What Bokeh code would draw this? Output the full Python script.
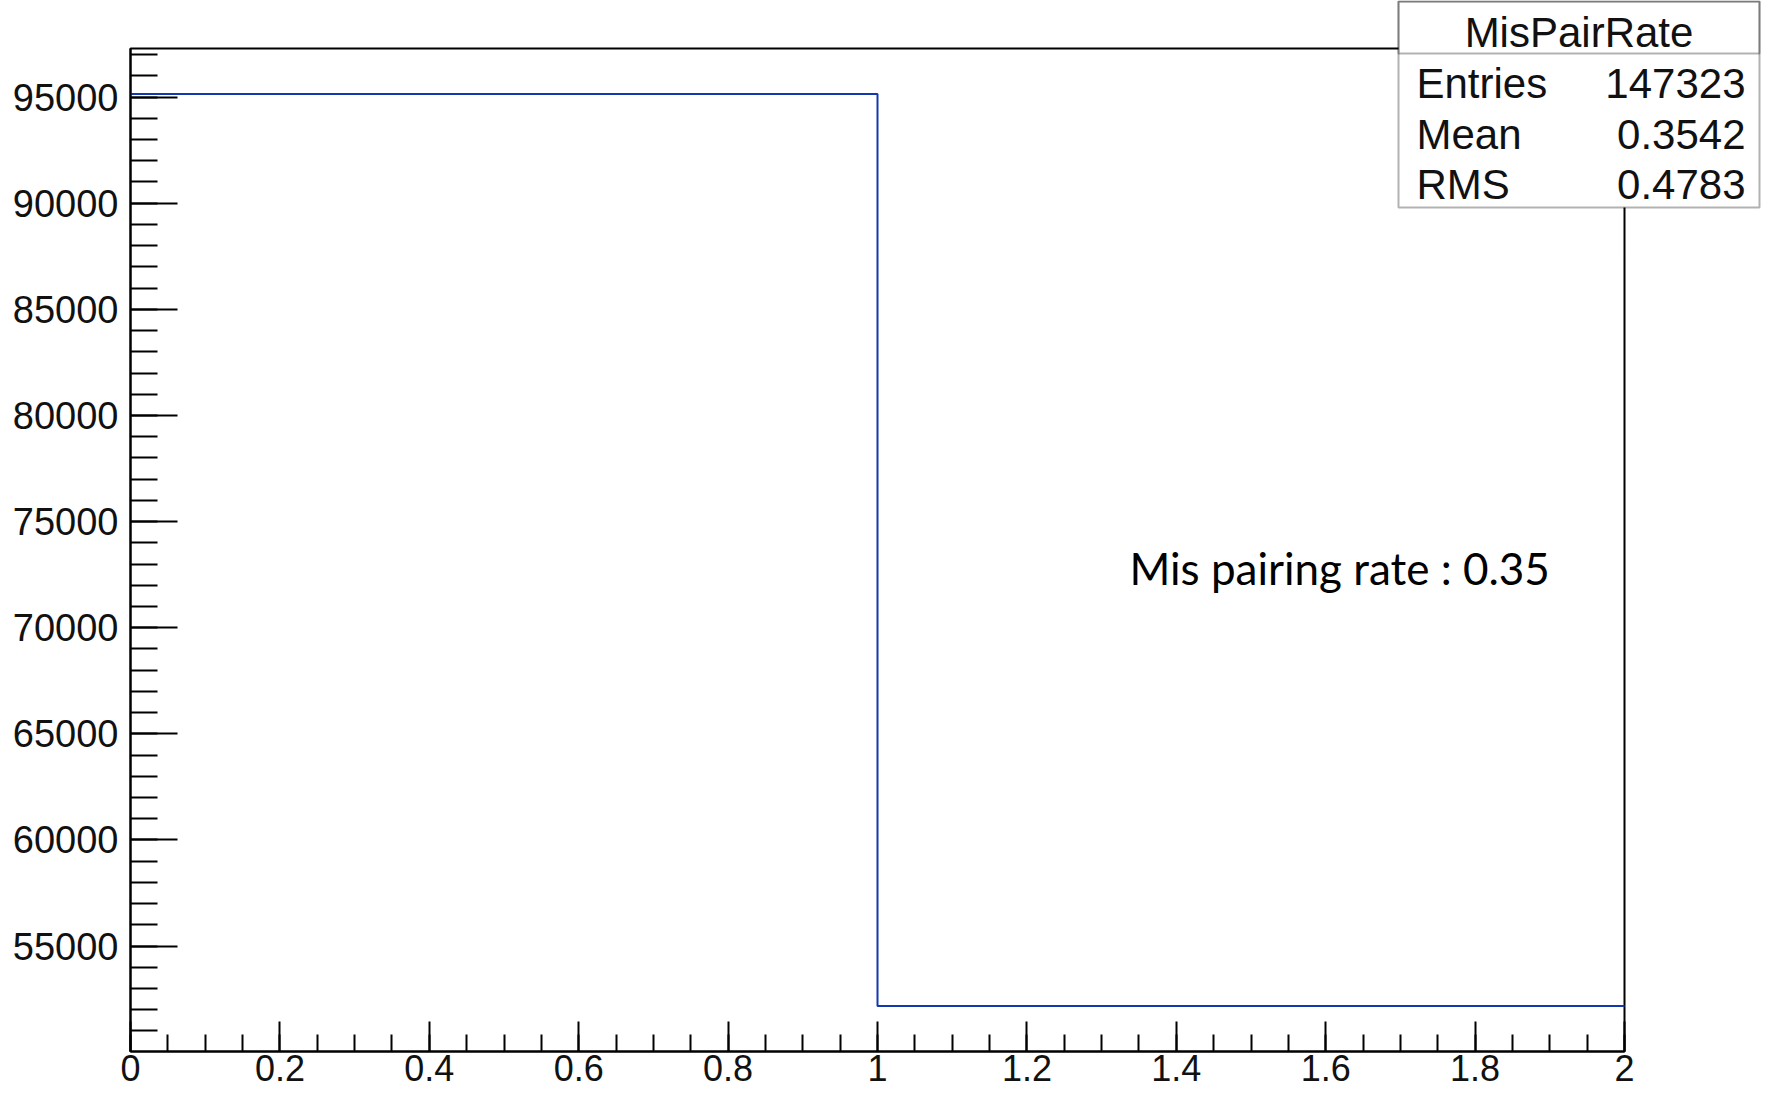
from bokeh.plotting import figure
from bokeh.models import FixedTicker, BoxAnnotation, Label, Range1d
from bokeh.embed import file_html
from bokeh.resources import INLINE

# ---- data ----
bin_edges = [0.0, 1.0, 2.0]
bin_counts = [95141, 52182]
hist_name = "MisPairRate"
stats_labels = ["Entries", "Mean", "RMS"]
stats_values = ["147323", "0.3542", "0.4783"]
note_text = "Mis pairing rate : 0.35"
x_major_ticks = [0.0, 0.2, 0.4, 0.6, 0.8, 1.0, 1.2, 1.4, 1.6, 1.8, 2.0]
x_tick_labels = ["0", "0.2", "0.4", "0.6", "0.8", "1", "1.2", "1.4", "1.6", "1.8", "2"]
x_minor_ticks = [round(i * 0.05, 2) for i in range(41)]
y_major_ticks = [55000, 60000, 65000, 70000, 75000, 80000, 85000, 90000, 95000]
y_tick_labels = ["55000", "60000", "65000", "70000", "75000", "80000", "85000", "90000", "95000"]
y_minor_ticks = list(range(51000, 98000, 1000))
x_limits = (0.0, 2.0)
y_limits = (50034, 97289)

# ---- layout (pixels) ----
W, H = 1761, 1092
FL, FR, FT, FB = 130, 1624, 48, 1051   # histogram frame box on the canvas
FONT = "Liberation Sans"
BLUE = "#1238b0"

xpp = (x_limits[1] - x_limits[0]) / (FR - FL)
ypp = (y_limits[1] - y_limits[0]) / (FB - FT)
x_rng = Range1d(x_limits[0] - FL * xpp, x_limits[1] + (W - FR) * xpp)
y_rng = Range1d(y_limits[0] - (H - FB) * ypp, y_limits[1] + FT * ypp)

p = figure(width=W, height=H, x_range=x_rng, y_range=y_rng,
           output_backend="svg", toolbar_location=None,
           min_border=0, min_border_left=0, min_border_right=0,
           min_border_top=0, min_border_bottom=0)
p.background_fill_color = "white"
p.border_fill_color = "white"
p.outline_line_color = None
p.xgrid.visible = False
p.ygrid.visible = False

# frame box of the histogram pad
p.quad(left=[x_limits[0]], right=[x_limits[1]], bottom=[y_limits[0]], top=[y_limits[1]],
       fill_alpha=0, line_color="black", line_width=2)

# histogram outline (step)
step_x = list(bin_edges)
step_y = list(bin_counts) + [bin_counts[-1]]
p.step(x=step_x, y=step_y, mode="after", line_color=BLUE, line_width=2)

# axes
xa = p.xaxis[0]
xa.ticker = FixedTicker(ticks=x_major_ticks, minor_ticks=x_minor_ticks)
xa.major_label_overrides = {t: l for t, l in zip(x_major_ticks, x_tick_labels)}
xa.fixed_location = y_limits[0]
xa.bounds = x_limits
ya = p.yaxis[0]
ya.ticker = FixedTicker(ticks=y_major_ticks, minor_ticks=y_minor_ticks)
ya.major_label_overrides = {t: l for t, l in zip(y_major_ticks, y_tick_labels)}
ya.fixed_location = x_limits[0]
ya.bounds = y_limits

for ax, maj, mn in ((xa, 30, 17), (ya, 47, 27)):
    ax.axis_line_color = "black"
    ax.axis_line_width = 2
    ax.major_tick_in = maj
    ax.major_tick_out = 0
    ax.minor_tick_in = mn
    ax.minor_tick_out = 0
    ax.major_tick_line_color = "black"
    ax.major_tick_line_width = 2
    ax.minor_tick_line_color = "black"
    ax.minor_tick_line_width = 2
    ax.major_label_text_font = FONT
    ax.major_label_text_color = "#111111"
ya.major_label_text_font_size = "38px"
xa.major_label_text_font_size = "36px"
ya.major_label_standoff = 12
xa.major_label_standoff = 3

# note text
p.add_layout(Label(x=1129, y=H - 567, x_units="screen", y_units="screen", text=note_text,
                   text_font="Lato", text_font_size="44px", text_color="black",
                   text_align="left", text_baseline="alphabetic"))

# stats box (screen units, canvas coordinates measured from bottom-left)
bx_l, bx_r, bx_t, bx_b, bx_sep = 1398, 1759, H - 1, H - 207, H - 53
p.add_layout(BoxAnnotation(left=bx_l, right=bx_r, top=bx_t, bottom=bx_b,
                           left_units="screen", right_units="screen",
                           top_units="screen", bottom_units="screen",
                           fill_color="white", fill_alpha=1.0,
                           line_color="black", line_width=2, level="overlay"))
p.add_layout(BoxAnnotation(left=bx_l, right=bx_r, top=bx_t, bottom=bx_sep,
                           left_units="screen", right_units="screen",
                           top_units="screen", bottom_units="screen",
                           fill_color="white", fill_alpha=0.0,
                           line_color="black", line_width=2, level="overlay"))
p.add_layout(Label(x=(bx_l + bx_r) / 2, y=H - 48 + 16, x_units="screen", y_units="screen",
                   text=hist_name, text_font=FONT, text_font_size="42px",
                   text_color="#111111", text_align="center", text_baseline="alphabetic",
                   level="overlay"))
row_base = [98.7, 149.7, 199.6]
for lab, val, yb in zip(stats_labels, stats_values, row_base):
    p.add_layout(Label(x=bx_l + 18, y=H - yb + 16, x_units="screen", y_units="screen", text=lab,
                       text_font=FONT, text_font_size="42px", text_color="#111111",
                       text_align="left", text_baseline="alphabetic", level="overlay"))
    p.add_layout(Label(x=bx_r - 14, y=H - yb + 16, x_units="screen", y_units="screen", text=val,
                       text_font=FONT, text_font_size="42px", text_color="#111111",
                       text_align="right", text_baseline="alphabetic", level="overlay"))

open("out.html", "w").write(file_html(p, INLINE))
